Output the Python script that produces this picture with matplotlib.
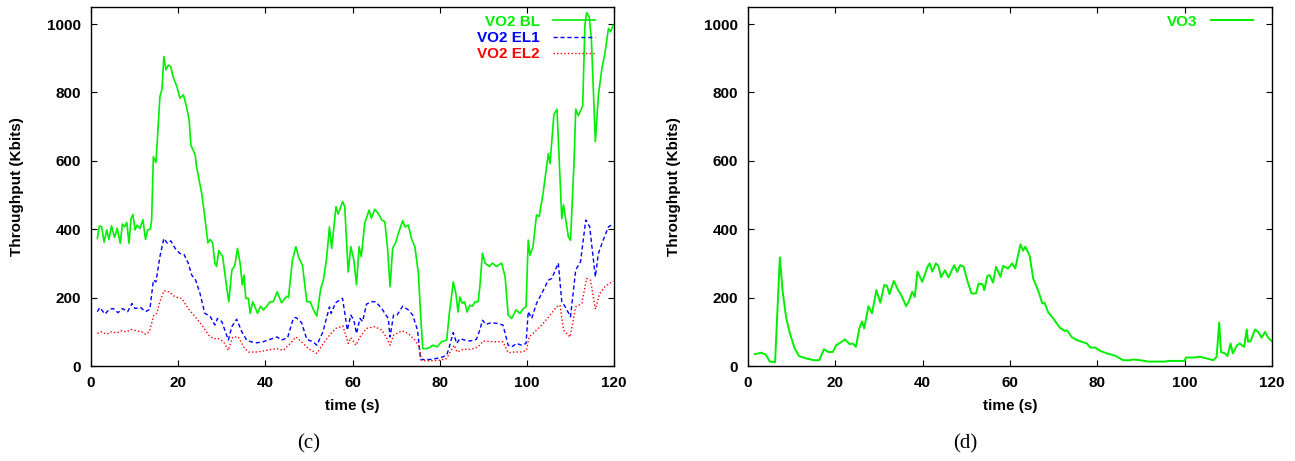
import matplotlib.pyplot as plt

# VO2 base layer (panel c)
bl_t = [1.45, 1.9, 2.4, 3.0, 3.6, 4.1, 4.7, 5.4, 6.0, 6.7, 7.2, 7.7, 8.2, 8.7, 9.2, 9.6, 10.1, 10.6,
        11.2, 11.9, 12.5, 13.0, 13.6, 13.9, 14.3, 14.9, 15.4, 15.8, 16.3, 16.7, 17.2, 17.7, 18.3, 18.8,
        19.7, 20.4, 21.2, 21.9, 22.5, 22.9, 23.9, 24.2, 25.4, 26.1, 26.8, 27.3, 27.9, 28.4, 28.8, 29.3,
        30.2, 31.1, 31.6, 32.3, 33.0, 33.6, 34.2, 34.7, 35.1, 35.5, 36.1, 36.5, 37.1, 38.2, 38.9, 39.5,
        40.3, 41.1, 41.8, 42.7, 43.7, 44.9, 45.3, 46.2, 47.0, 47.7, 48.5, 49.5, 50.3, 50.9, 51.8, 52.7,
        53.3, 54.0, 54.7, 55.2, 56.2, 56.7, 57.7, 58.2, 59.0, 59.6, 60.3, 60.9, 61.5, 62.0, 62.8, 63.8,
        64.3, 65.1, 65.9, 66.7, 67.4, 68.0, 68.6, 69.2, 69.9, 70.5, 71.5, 72.0, 72.8, 73.5, 74.3, 75.1,
        75.6, 76.1, 76.9, 77.7, 78.4, 79.4, 80.4, 81.6, 82.2, 82.5, 83.1, 83.7, 84.2, 84.6, 85.2, 85.7,
        86.3, 86.9, 87.5, 88.1, 88.8, 89.2, 89.8, 90.4, 91.4, 92.1, 93.0, 94.2, 95.0, 95.7, 96.5, 97.5,
        98.4, 99.2, 99.8, 100.3, 100.7, 101.4, 102.2, 102.8, 103.7, 104.9, 105.3, 106.2, 106.9, 108.0,
        108.4, 109.5, 110.0, 110.8, 111.2, 111.8, 112.8, 113.3, 113.7, 114.3, 114.8, 115.7, 116.4,
        117.2, 117.9, 118.7, 119.2, 119.8]
bl_v = [373, 409, 408, 362, 398, 370, 410, 376, 403, 359, 415, 407, 420, 359, 432, 443, 398, 412,
        402, 428, 370, 398, 400, 426, 612, 595, 700, 787, 812, 905, 866, 880, 875, 846,
        817, 783, 793, 758, 720, 646, 617, 583, 504, 436, 360, 370, 360, 301, 291, 337,
        320, 232, 188, 280, 295, 344, 301, 237, 266, 198, 198, 154, 188, 154, 175, 164,
        175, 188, 188, 217, 185, 204, 200, 310, 349, 315, 295, 188, 188, 168, 146, 227,
        251, 310, 407, 344, 466, 444, 481, 466, 275, 349, 310, 237, 349, 320, 418, 456,
        432, 458, 446, 427, 422, 349, 232, 344, 361, 388, 425, 407, 412, 373, 349, 271,
        154, 51, 51, 54, 61, 56, 71, 76, 154, 183, 246, 212, 158, 202, 183, 188,
        158, 178, 175, 188, 188, 232, 330, 301, 291, 301, 291, 301, 261, 149, 139, 164,
        154, 168, 173, 368, 324, 349, 442, 437, 504, 621, 592, 736, 751, 431,
        471, 378, 368, 592, 751, 732, 761, 997, 1033, 1021, 953, 656, 792,
        870, 914, 987, 977, 997]

# VO2 enhancement layer 1
el1_t = [1.45, 2.0, 3.2, 4.2, 5.1, 6.2, 7.2, 8.4, 9.4, 10.1, 11.4, 12.5, 13.5, 14.3, 14.9, 15.8,
         16.7, 17.5, 18.3, 19.3, 20.4, 21.3, 22.3, 23.1, 24.0, 25.0, 26.1, 27.3, 28.4, 29.0, 30.0,
         31.5, 32.3, 33.4, 34.6, 35.7, 36.7, 38.1, 39.5, 41.1, 42.7, 43.7, 45.1, 46.4, 47.0, 48.3,
         49.5, 50.9, 51.8, 53.2, 54.7, 55.1, 56.1, 57.7, 58.8, 59.6, 60.3, 60.9, 61.7, 62.3, 63.2,
         64.3, 65.3, 66.7, 67.4, 68.2, 68.6, 69.4, 70.2, 71.5, 72.8, 73.8, 74.9, 75.6, 76.6, 77.7,
         79.2, 80.8, 81.6, 82.2, 83.1, 83.9, 84.6, 85.7, 86.9, 88.4, 89.2, 89.8, 90.6, 91.9, 93.4,
         94.5, 95.7, 96.5, 97.6, 98.8, 99.8, 100.3, 101.1, 102.2, 103.4, 104.9, 105.7, 107.2, 108.0,
         108.8, 110.0, 111.2, 112.3, 113.5, 114.4, 115.7, 116.4, 117.5, 118.7, 119.8]
el1_v = [159, 171, 152, 166, 168, 156, 168, 159, 183, 168, 171, 159, 166, 251, 246, 320,
         373, 359, 366, 344, 329, 327, 301, 266, 251, 212, 154, 146, 120, 139, 130,
         76, 115, 137, 100, 76, 71, 68, 71, 78, 85, 76, 83, 139, 142, 127,
         78, 71, 61, 100, 173, 154, 185, 198, 105, 149, 134, 95, 139, 130, 181,
         188, 188, 168, 154, 139, 85, 149, 149, 175, 164, 149, 105, 19, 19, 19,
         22, 27, 32, 56, 98, 66, 80, 76, 73, 78, 105, 134, 122, 127, 124,
         120, 61, 56, 66, 61, 66, 159, 139, 183, 212, 251, 256, 301, 188,
         173, 144, 281, 305, 427, 407, 261, 329, 368, 407, 415]

# VO2 enhancement layer 2
el2_t = [1.45, 2.4, 3.6, 4.7, 5.9, 7.0, 8.1, 9.3, 10.4, 11.6, 12.5, 13.4, 14.4, 15.1, 15.8, 16.7,
         17.9, 19.3, 20.8, 22.3, 23.9, 25.4, 27.0, 28.1, 29.3, 30.4, 31.5, 32.5, 33.8, 35.0, 36.1,
         38.1, 40.3, 42.7, 44.1, 45.7, 47.0, 48.3, 49.8, 51.8, 53.3, 54.7, 56.1, 57.8, 59.0, 59.6,
         60.8, 61.7, 63.2, 65.1, 66.7, 67.8, 68.6, 69.4, 71.3, 72.8, 74.3, 75.3, 75.8, 77.7, 80.0,
         81.6, 82.2, 83.3, 84.0, 85.4, 87.3, 88.8, 90.0, 92.3, 94.5, 95.7, 97.2, 98.8, 99.9, 100.5,
         102.2, 103.7, 105.3, 106.8, 107.6, 108.4, 109.9, 111.2, 112.6, 113.7, 114.6, 115.7, 116.7,
         117.9, 119.8]
el2_v = [95, 100, 93, 100, 97, 103, 100, 107, 103, 100, 93, 100, 149, 154, 188, 220,
         217, 202, 198, 168, 144, 120, 90, 80, 80, 71, 46, 85, 85, 56, 41,
         41, 46, 51, 46, 66, 85, 71, 51, 37, 66, 90, 110, 117, 66, 83,
         61, 85, 110, 115, 105, 83, 61, 90, 103, 95, 76, 56, 17, 15, 17,
         22, 37, 61, 41, 49, 49, 56, 73, 71, 71, 39, 41, 41, 46, 85,
         105, 124, 149, 173, 178, 105, 85, 173, 183, 256, 251, 166, 212,
         232, 249]

# VO3 (panel d)
vo3_t = [1.6, 3.1, 4.1, 5.0, 6.2, 7.3, 7.9, 8.7, 9.6, 10.7, 11.7, 13.4, 15.1, 16.3, 17.4, 18.4,
         19.4, 20.2, 21.1, 22.2, 23.3, 24.0, 24.7, 25.5, 26.1, 26.6, 27.6, 28.4, 29.4, 30.3, 31.2,
         31.8, 32.4, 33.4, 34.3, 35.1, 36.2, 36.8, 37.6, 38.2, 38.8, 39.9, 41.1, 41.6, 42.2, 43.0,
         43.6, 44.2, 45.1, 45.9, 47.2, 47.9, 48.6, 49.4, 50.3, 51.2, 52.2, 52.8, 53.7, 54.1, 54.8,
         55.3, 56.1, 56.8, 57.8, 58.4, 59.5, 60.5, 61.2, 61.8, 62.4, 63.0, 63.5, 64.5, 65.3, 66.4,
         67.4, 67.9, 68.7, 69.9, 71.4, 72.6, 73.0, 74.1, 75.3, 76.4, 77.6, 78.4, 79.5, 80.7, 82.2,
         84.1, 85.9, 87.5, 88.2, 89.8, 91.7, 93.6, 95.5, 96.3, 98.2, 99.9, 100.3, 102.0, 103.5,
         105.1, 106.6, 107.3, 107.9, 108.3, 109.2, 109.8, 110.5, 111.0, 112.0, 112.6, 113.6, 114.2,
         114.5, 115.1, 116.1, 116.8, 117.6, 118.4, 119.1, 119.9]
vo3_v = [35, 39, 33, 13, 11, 318, 222, 144, 95, 51, 29, 22, 17, 17, 49, 41,
         41, 61, 68, 78, 64, 66, 56, 110, 130, 110, 175, 154, 222, 185, 237,
         235, 210, 249, 224, 207, 175, 188, 217, 202, 276, 246, 290, 300, 276, 300,
         293, 260, 280, 259, 295, 275, 295, 290, 246, 212, 212, 241, 239, 222, 263,
         266, 244, 290, 261, 293, 285, 300, 285, 322, 356, 337, 349, 322, 256, 222,
         183, 185, 158, 139, 112, 102, 105, 85, 76, 71, 66, 54, 54, 44, 37,
         30, 17, 17, 19, 17, 13, 13, 13, 15, 15, 15, 25, 25, 27,
         22, 17, 27, 127, 41, 37, 29, 66, 37, 61, 66, 56, 107,
         71, 73, 107, 100, 83, 100, 83, 73]

GREEN = '#00ee00'
BLUE = '#0000ff'
RED = '#ff0000'

plt.rcParams['font.family'] = 'Liberation Sans'
plt.rcParams['font.weight'] = 'bold'


def style_axes(ax):
    ax.set_xlim(0, 120)
    ax.set_ylim(0, 1050)
    ax.set_xticks(range(0, 121, 20))
    ax.set_yticks(range(0, 1001, 200))
    ax.tick_params(direction='in', top=True, right=True, length=4, width=0.8, labelsize=11)
    ax.tick_params(axis='x', pad=7)
    ax.tick_params(axis='y', pad=7)
    for lab in ax.get_xticklabels() + ax.get_yticklabels():
        lab.set_fontweight('bold')
    for s in ax.spines.values():
        s.set_linewidth(1.0)
    ax.set_xlabel('time (s)', fontsize=11, fontweight='bold', labelpad=7)
    ax.set_ylabel('Throughput (Kbits)', fontsize=11, fontweight='bold', labelpad=17)


fig = plt.figure(figsize=(12.95, 4.61), dpi=100)
ax1 = fig.add_axes([0.0703, 0.206, 0.4039, 0.779])
ax2 = fig.add_axes([0.5776, 0.206, 0.4047, 0.779])

ax1.plot(bl_t, bl_v, color=GREEN, lw=1.2, label='VO2 BL')
ax1.plot(el1_t, el1_v, color=BLUE, lw=1.0, ls=(0, (3, 2)), label='VO2 EL1')
ax1.plot(el2_t, el2_v, color=RED, lw=1.0, ls=(0, (1, 1.6)), label='VO2 EL2')
style_axes(ax1)

ax2.plot(vo3_t, vo3_v, color=GREEN, lw=1.4, label='VO3')
style_axes(ax2)

for ax in (ax1, ax2):
    ax.legend(loc='upper right', frameon=False, markerfirst=False, labelcolor='linecolor',
              prop={'weight': 'bold', 'size': 11}, handlelength=2.75, handletextpad=0.85,
              labelspacing=0.15, borderaxespad=0.0, bbox_to_anchor=(0.975, 0.995))

fig.text(0.2386, 0.037, '(c)', ha='center', va='center', fontsize=15, family='Liberation Serif',
         fontweight='normal')
fig.text(0.745, 0.037, '(d)', ha='center', va='center', fontsize=15, family='Liberation Serif',
         fontweight='normal')

fig.savefig('out.png', dpi=100)
